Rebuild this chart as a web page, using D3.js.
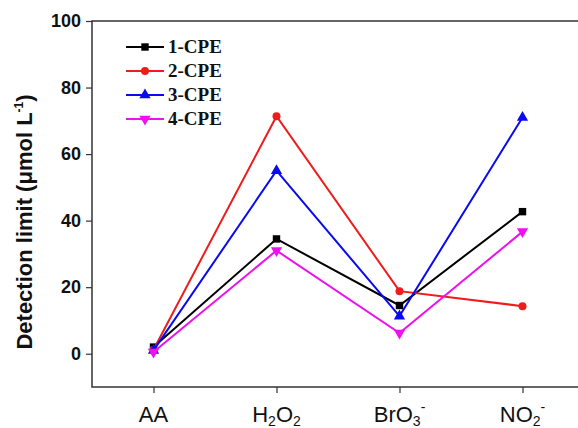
<!DOCTYPE html>
<html>
<head>
<meta charset="utf-8">
<script src="https://cdn.jsdelivr.net/npm/d3@7"></script>
<style>
  body { margin: 0; background: #fff; }
  svg { display: block; }
</style>
</head>
<body>
<div id="chart"></div>
<script>
// analytes on the x axis
const analytes = ["AA", "H2O2", "BrO3-", "NO2-"];
const seriesNames = ["1-CPE", "2-CPE", "3-CPE", "4-CPE"];
// detection limits, µmol/L
const cpe1 = [2.0, 34.5, 14.5, 42.7];
const cpe2 = [1.2, 71.4, 18.8, 14.3];
const cpe3 = [1.0, 55.0, 11.3, 71.0];
const cpe4 = [0.5, 31.0, 6.2, 36.7];
const yTicks = [0, 20, 40, 60, 80, 100];

const colors = ["#000000", "#ee1c1c", "#0a0af0", "#ee10ee"];
const symbols = [d3.symbolSquare, d3.symbolCircle, d3.symbolTriangle, "down"];
const allSeries = [cpe1, cpe2, cpe3, cpe4];

const width = 578, height = 428;
const margin = {left: 92, top: 21, right: -6, bottom: 41};

const svg = d3.select("#chart").append("svg")
  .attr("width", width)
  .attr("height", height);

const x = d3.scalePoint()
  .domain(analytes)
  .range([margin.left, width - margin.right])
  .padding(0.5);

const y = d3.scaleLinear()
  .domain([-10, 100])
  .range([height - margin.bottom, margin.top]);

// frame: left, top, bottom
svg.append("path")
  .attr("d", `M${width - margin.right},${margin.top}H${margin.left}V${height - margin.bottom}H${width - margin.right}`)
  .attr("fill", "none")
  .attr("stroke", "#333")
  .attr("stroke-width", 1.5);

// y axis
const yAxis = svg.append("g")
  .attr("transform", `translate(${margin.left},0)`)
  .call(d3.axisLeft(y).tickValues(yTicks).tickSize(6).tickPadding(5));
yAxis.select(".domain").remove();
yAxis.selectAll("line").attr("stroke", "#333").attr("stroke-width", 1.2);
yAxis.selectAll("text")
  .attr("font-family", "Liberation Sans, Arial, sans-serif")
  .attr("font-size", 18)
  .attr("font-weight", "bold")
  .attr("fill", "#111");

// x axis
const xAxis = svg.append("g")
  .attr("transform", `translate(0,${height - margin.bottom})`)
  .call(d3.axisBottom(x).tickSize(6).tickFormat(""));
xAxis.select(".domain").remove();
xAxis.selectAll("line").attr("stroke", "#333").attr("stroke-width", 1.2);

// x tick labels with sub/superscripts
const xLabels = {
  "AA": [["AA", ""]],
  "H2O2": [["H", ""], ["2", "sub"], ["O", ""], ["2", "sub"]],
  "BrO3-": [["BrO", ""], ["3", "sub"], ["-", "sup"]],
  "NO2-": [["NO", ""], ["2", "sub"], ["-", "sup"]]
};
analytes.forEach(a => {
  const t = svg.append("text")
    .attr("x", x(a))
    .attr("y", 422)
    .attr("text-anchor", "middle")
    .attr("font-family", "Liberation Sans, Arial, sans-serif")
    .attr("font-size", 22)
    .attr("fill", "#111");
  let shift = 0;
  xLabels[a].forEach(p => {
    const ts = t.append("tspan").text(p[0]);
    let target = 0;
    if (p[1] == "sub") { ts.attr("font-size", 14); target = 4; }
    if (p[1] == "sup") { ts.attr("font-size", 14); target = -10; }
    ts.attr("dy", target - shift);
    shift = target;
  });
});

// y axis title
const title = svg.append("text")
  .attr("transform", `translate(32,${222}) rotate(-90)`)
  .attr("text-anchor", "middle")
  .attr("font-family", "Liberation Sans, Arial, sans-serif")
  .attr("font-size", 22)
  .attr("font-weight", "bold")
  .attr("fill", "#111");
title.append("tspan").text("Detection limit (μmol L");
title.append("tspan").attr("font-size", 12).attr("dy", -9).text("-1");
title.append("tspan").attr("dy", 9).text(")");

function drawMarker(g, sym, color, cx, cy) {
  if (sym == "down") {
    g.append("path")
      .attr("d", d3.symbol(d3.symbolTriangle, 55)())
      .attr("transform", `translate(${cx},${cy}) rotate(180)`)
      .attr("fill", color);
  } else {
    g.append("path")
      .attr("d", d3.symbol(sym, sym == d3.symbolCircle ? 50 : 55)())
      .attr("transform", `translate(${cx},${cy})`)
      .attr("fill", color);
  }
}

const line = d3.line()
  .x((d, i) => x(analytes[i]))
  .y(d => y(d));

allSeries.forEach((vals, k) => {
  const g = svg.append("g");
  g.append("path")
    .datum(vals)
    .attr("d", line)
    .attr("fill", "none")
    .attr("stroke", colors[k])
    .attr("stroke-width", 2);
  vals.forEach((v, i) => drawMarker(g, symbols[k], colors[k], x(analytes[i]), y(v)));
});

// legend
const legend = svg.append("g").attr("transform", "translate(126,47)");
seriesNames.forEach((name, k) => {
  const row = legend.append("g").attr("transform", `translate(0,${k * 24})`);
  row.append("line")
    .attr("x1", 0).attr("x2", 38)
    .attr("stroke", colors[k])
    .attr("stroke-width", 2);
  drawMarker(row, symbols[k], colors[k], 19, 0);
  row.append("text")
    .attr("x", 42)
    .attr("y", 6)
    .attr("font-family", "Liberation Serif, Times New Roman, serif")
    .attr("font-size", 19)
    .attr("font-weight", "bold")
    .attr("fill", "#111")
    .text(name);
});
</script>
</body>
</html>
